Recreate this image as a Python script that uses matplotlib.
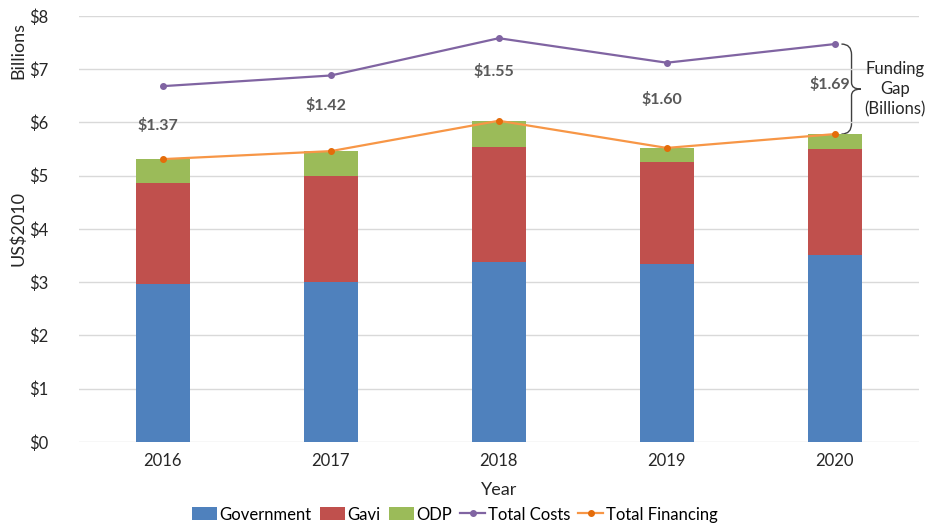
import numpy as np
import matplotlib.pyplot as plt
from matplotlib.path import Path
from matplotlib.patches import PathPatch

plt.rcParams['font.family'] = ['Lato', 'DejaVu Sans']

# Data (billions, US$2010)
years = ['2016', '2017', '2018', '2019', '2020']
government = [2.97, 3.00, 3.38, 3.34, 3.51]
gavi = [1.89, 2.00, 2.16, 1.92, 1.99]
odp = [0.45, 0.46, 0.49, 0.26, 0.28]
total_costs = [6.68, 6.88, 7.58, 7.12, 7.47]
gap_labels = ['$1.37', '$1.42', '$1.55', '$1.60', '$1.69']

blue = '#4F81BD'
red = '#C0504D'
green = '#9BBB59'
purple = '#8064A2'
orange = '#F79646'

x = np.arange(len(years))
gov = np.array(government)
gv = np.array(gavi)
od = np.array(odp)
financing = gov + gv + od

fig = plt.figure(figsize=(9.28, 5.28), dpi=100)
ax = fig.add_axes([0.085, 0.163, 0.905, 0.807])

w = 0.32
b1 = ax.bar(x, gov, w, color=blue, label='Government', zorder=2)
b2 = ax.bar(x, gv, w, bottom=gov, color=red, label='Gavi', zorder=2)
b3 = ax.bar(x, od, w, bottom=gov + gv, color=green, label='ODP', zorder=2)
l1, = ax.plot(x, total_costs, color=purple, lw=1.6, marker='o', ms=4, label='Total Costs', zorder=3)
l2, = ax.plot(x, financing, color=orange, lw=1.6, marker='o', ms=4, mfc='#E46C0A', mec='#E46C0A',
              label='Total Financing', zorder=3)

# gap labels between the two lines
offsets = [-0.05, 0.15, 0.15, 0.1, 0.08]
for i, lab in enumerate(gap_labels):
    mid = (total_costs[i] + financing[i]) / 2 + offsets[i]
    ax.text(x[i] - 0.03, mid, lab, ha='center', va='center', fontsize=11.5,
            fontweight='bold', color='#595959')

# curly brace for last year
top = total_costs[-1]
bot = financing[-1]
mid = (top + bot) / 2
x0 = x[-1] + 0.04
xm = x[-1] + 0.10
xt = x[-1] + 0.155
verts = [(x0, top), (xm, top), (xm, top - 0.2),
         (xm, mid + 0.12), (xm, mid), (xt, mid),
         (xm, mid), (xm, mid - 0.12),
         (xm, bot + 0.2), (xm, bot), (x0, bot)]
codes = [Path.MOVETO, Path.CURVE3, Path.CURVE3,
         Path.LINETO, Path.CURVE3, Path.CURVE3,
         Path.CURVE3, Path.CURVE3,
         Path.LINETO, Path.CURVE3, Path.CURVE3]
ax.add_patch(PathPatch(Path(verts, codes), fill=False, ec='#404040', lw=1.0, clip_on=False))
ax.text(x[-1] + 0.36, mid, 'Funding\nGap\n(Billions)', ha='center', va='center',
        fontsize=12, color='#262626', linespacing=1.3, clip_on=False)

ax.set_xlim(-0.5, 4.5)
ax.set_ylim(0, 8)
ax.set_xticks(x)
ax.set_xticklabels(years)
ax.set_yticks(range(9))
ax.set_yticklabels(['$%d' % v for v in range(9)])
ax.tick_params(axis='both', length=0, labelsize=12, colors='#262626', pad=8)
ax.tick_params(axis='y', pad=22)
ax.grid(axis='y', color='#D9D9D9', lw=1, zorder=0)
for s in ax.spines.values():
    s.set_visible(False)

ax.set_xlabel('Year', fontsize=13, color='#262626', labelpad=9)
fig.text(0.02, 0.905, 'Billions', rotation=90, ha='center', va='center', fontsize=13, color='#262626')
fig.text(0.02, 0.568, 'US$2010', rotation=90, ha='center', va='center', fontsize=13, color='#262626')

fig.legend(handles=[b1, b2, b3, l1, l2], loc='lower center', bbox_to_anchor=(0.49, -0.018), ncol=5,
           frameon=False, fontsize=12, handlelength=1.5, handleheight=0.8,
           handletextpad=0.15, columnspacing=0.5)

fig.savefig('out.png', dpi=100)
